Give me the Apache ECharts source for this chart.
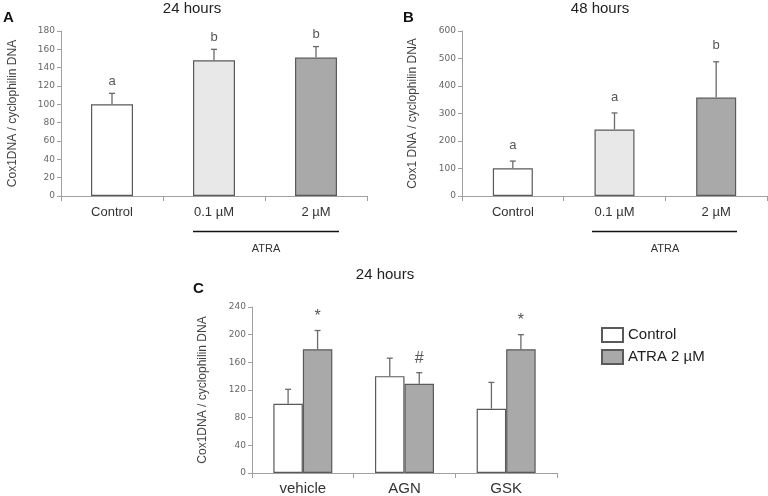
<!DOCTYPE html>
<html><head><meta charset="utf-8">
<script src="https://cdn.jsdelivr.net/npm/echarts@6/dist/echarts.min.js"></script>
<style>html,body{margin:0;padding:0;background:#fff}#c{width:768px;height:496px}</style>
</head><body><div id="c"></div>
<script>
// Panel A: 24 hours
const catsAB = ['Control', '0.1 µM', '2 µM'];
const meanA = [100, 148, 151];
const errA = [12, 12, 12];
const letterA = ['a', 'b', 'b'];
const ticksA = [0, 20, 40, 60, 80, 100, 120, 140, 160, 180];
// Panel B: 48 hours
const meanB = [101, 242, 358];
const errB = [26, 60, 130];
const letterB = ['a', 'a', 'b'];
const ticksB = [0, 100, 200, 300, 400, 500, 600];
// Panel C: 24 hours, antagonists
const catsC = ['vehicle', 'AGN', 'GSK'];
const seriesC = ['Control', 'ATRA 2 µM'];
const ctrlC = [100, 140, 93];
const ctrlErrC = [21, 26, 38];
const atraC = [179, 129, 179];
const atraErrC = [27, 16, 21];
const atraMarkC = ['*', '#', '*'];
const ticksC = [0, 40, 80, 120, 160, 200, 240];

const FONT = 'Liberation Sans, Arial, sans-serif';
const barColorsAB = ['#ffffff', '#e8e8e8', '#a9a9a9'];
const borderCol = '#5a5a5a';

function errSeries(axisIdx, means, errs, marks, offFrac, markGap, markSize) {
  return {
    type: 'custom', xAxisIndex: axisIdx, yAxisIndex: axisIdx, z: 5, silent: true,
    data: means.map((m, i) => [i, m, errs[i]]),
    renderItem: function (params, api) {
      const i = api.value(0), v = api.value(1), e = api.value(2);
      const base = api.coord([i, v]);
      const top = api.coord([i, v + e]);
      const bw = api.size([1, 0])[0];
      const cx = base[0] + offFrac * bw;
      const ch = [
        {type: 'line', shape: {x1: cx, y1: base[1], x2: cx, y2: top[1]}, style: {stroke: '#6a6a6a', lineWidth: 1.3}},
        {type: 'line', shape: {x1: cx - 3, y1: top[1], x2: cx + 3, y2: top[1]}, style: {stroke: '#6a6a6a', lineWidth: 1.3}}
      ];
      if (marks) {
        const t = marks[params.dataIndex];
        ch.push({type: 'text', x: cx, y: top[1] - markGap,
          style: {text: t, align: 'center', verticalAlign: 'middle', fill: '#555', fontSize: markSize, fontFamily: FONT}});
      }
      return {type: 'group', children: ch};
    }
  };
}

function yAx(idx, ticks, name, nameGap) {
  return {
    type: 'value', gridIndex: idx, min: ticks[0], max: ticks[ticks.length - 1], interval: ticks[1] - ticks[0],
    splitLine: {show: false},
    axisLine: {show: true, lineStyle: {color: '#a0a0a0'}},
    axisTick: {show: true, length: 4, lineStyle: {color: '#a0a0a0'}},
    axisLabel: {color: '#666', fontSize: 9, fontFamily: 'DejaVu Sans', margin: 6},
    name: name, nameLocation: 'middle', nameGap: nameGap, nameRotate: 90,
    nameTextStyle: {color: '#444', fontSize: 12, fontFamily: FONT}
  };
}
function xAx(idx, cats, fs, margin) {
  return {
    type: 'category', gridIndex: idx, data: cats,
    axisLine: {show: true, lineStyle: {color: '#a0a0a0'}},
    axisTick: {show: true, length: 5, lineStyle: {color: '#a0a0a0'}},
    axisLabel: {color: '#333', fontSize: fs, fontFamily: FONT, margin: margin}
  };
}

const chart = echarts.init(document.getElementById('c'), null, {renderer: 'canvas'});
chart.setOption({
  animation: false,
  backgroundColor: '#fff',
  grid: [
    {left: 61, top: 31, width: 306, height: 165},
    {left: 462, top: 31, width: 305, height: 165},
    {left: 252, top: 307, width: 305, height: 166}
  ],
  xAxis: [xAx(0, catsAB, 13, 10), xAx(1, catsAB, 13, 10), xAx(2, catsC, 15, 8)],
  yAxis: [
    yAx(0, ticksA, 'Cox1DNA / cyclophilin DNA', 42),
    yAx(1, ticksB, 'Cox1 DNA / cyclophilin DNA', 43),
    yAx(2, ticksC, 'Cox1DNA / cyclophilin DNA', 43)
  ],
  legend: {
    orient: 'vertical', left: 601, top: 327, padding: 0, itemWidth: 21, itemHeight: 14, itemGap: 6,
    icon: 'rect', data: seriesC,
    textStyle: {fontSize: 15, fontFamily: FONT, color: '#222'}
  },
  series: [
    {type: 'bar', xAxisIndex: 0, yAxisIndex: 0, barWidth: 42,
      data: meanA.map((v, i) => ({value: v, itemStyle: {color: barColorsAB[i]}})),
      itemStyle: {borderColor: borderCol, borderWidth: 1.2}},
    errSeries(0, meanA, errA, letterA, 0, 12, 13),
    {type: 'bar', xAxisIndex: 1, yAxisIndex: 1, barWidth: 40,
      data: meanB.map((v, i) => ({value: v, itemStyle: {color: barColorsAB[i]}})),
      itemStyle: {borderColor: borderCol, borderWidth: 1.2}},
    errSeries(1, meanB, errB, letterB, 0, 16, 13),
    {name: seriesC[0], type: 'bar', xAxisIndex: 2, yAxisIndex: 2, barWidth: 29.5, barGap: '0%',
      data: ctrlC, itemStyle: {color: '#ffffff', borderColor: borderCol, borderWidth: 1.2}},
    {name: seriesC[1], type: 'bar', xAxisIndex: 2, yAxisIndex: 2, barWidth: 29.5, barGap: '0%',
      data: atraC, itemStyle: {color: '#a9a9a9', borderColor: borderCol, borderWidth: 1.2}},
    errSeries(2, ctrlC, ctrlErrC, null, -0.145, 0, 0),
    errSeries(2, atraC, atraErrC, atraMarkC, 0.145, 14, 16)
  ],
  graphic: [
    {type: 'text', left: 3, top: 10, style: {text: 'A', fontSize: 15, fontWeight: 'bold', fontFamily: FONT, fill: '#111'}},
    {type: 'text', left: 403, top: 10, style: {text: 'B', fontSize: 15, fontWeight: 'bold', fontFamily: FONT, fill: '#111'}},
    {type: 'text', left: 193, top: 281, style: {text: 'C', fontSize: 15, fontWeight: 'bold', fontFamily: FONT, fill: '#111'}},
    {type: 'text', x: 192, y: 9, style: {text: '24 hours', fontSize: 15, fontFamily: FONT, fill: '#222', align: 'center', verticalAlign: 'middle'}},
    {type: 'text', x: 600, y: 9, style: {text: '48 hours', fontSize: 15, fontFamily: FONT, fill: '#222', align: 'center', verticalAlign: 'middle'}},
    {type: 'text', x: 385, y: 275, style: {text: '24 hours', fontSize: 15, fontFamily: FONT, fill: '#222', align: 'center', verticalAlign: 'middle'}},
    {type: 'line', shape: {x1: 193, y1: 231.5, x2: 339, y2: 231.5}, style: {stroke: '#111', lineWidth: 1.5}},
    {type: 'line', shape: {x1: 592, y1: 231.5, x2: 737, y2: 231.5}, style: {stroke: '#111', lineWidth: 1.5}},
    {type: 'text', x: 266, y: 249, style: {text: 'ATRA', fontSize: 11, fontFamily: FONT, fill: '#333', align: 'center', verticalAlign: 'middle'}},
    {type: 'text', x: 665, y: 249, style: {text: 'ATRA', fontSize: 11, fontFamily: FONT, fill: '#333', align: 'center', verticalAlign: 'middle'}}
  ]
});
</script></body></html>
